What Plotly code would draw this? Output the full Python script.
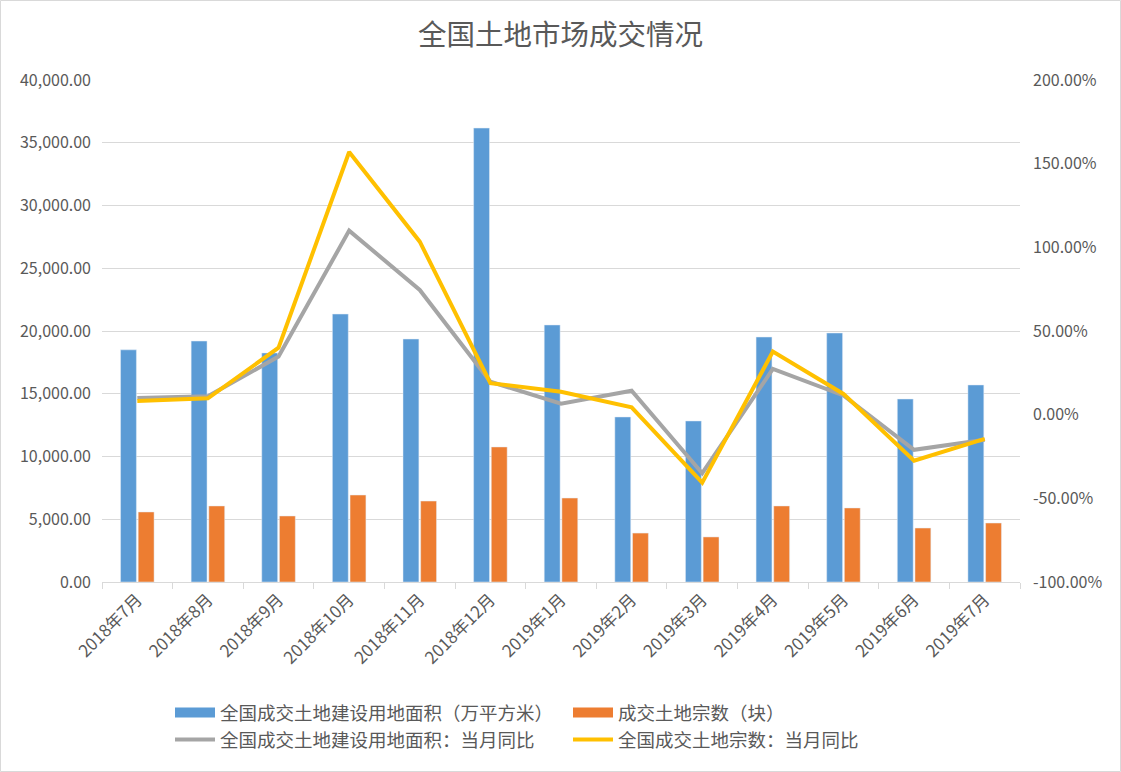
import plotly.graph_objects as go

categories = ["2018年7月", "2018年8月", "2018年9月", "2018年10月", "2018年11月", "2018年12月",
              "2019年1月", "2019年2月", "2019年3月", "2019年4月", "2019年5月", "2019年6月", "2019年7月"]
area = [18500, 19200, 18250, 21350, 19360, 36170, 20480, 13150, 12830, 19520, 19840, 14580, 15700]
count = [5580, 6060, 5260, 6930, 6450, 10760, 6690, 3900, 3590, 6060, 5900, 4300, 4700]
area_yoy = [10.0, 11.0, 34.7, 110.0, 74.5, 19.7, 6.6, 14.3, -35.0, 27.3, 11.5, -21.0, -15.0]
count_yoy = [8.2, 9.8, 40.0, 157.0, 103.4, 18.8, 13.7, 4.4, -40.6, 37.7, 12.4, -27.5, -14.5]

left_ticks = [0, 5000, 10000, 15000, 20000, 25000, 30000, 35000, 40000]
right_ticks = [-100, -50, 0, 50, 100, 150, 200]
right_labels = ["-100.00%", "-50.00%", "0.00%", "50.00%", "100.00%", "150.00%", "200.00%"]

names = ["全国成交土地建设用地面积（万平方米）", "成交土地宗数（块）",
         "全国成交土地建设用地面积：当月同比", "全国成交土地宗数：当月同比"]
colors = ["#5B9BD5", "#ED7D31", "#A5A5A5", "#FFC000"]

W, H = 1121, 772
ML, MR, MT, MB = 102, 101, 80, 190
font_family = "Noto Sans CJK SC, Microsoft YaHei, sans-serif"
txt = "#595959"

fig = go.Figure()
fig.add_trace(go.Bar(x=categories, y=area, name=names[0], marker_color=colors[0], yaxis="y",
                     showlegend=False))
fig.add_trace(go.Bar(x=categories, y=count, name=names[1], marker_color=colors[1], yaxis="y",
                     showlegend=False))
fig.add_trace(go.Scatter(x=categories, y=area_yoy, name=names[2], mode="lines",
                         line=dict(color=colors[2], width=4), yaxis="y2", showlegend=False))
fig.add_trace(go.Scatter(x=categories, y=count_yoy, name=names[3], mode="lines",
                         line=dict(color=colors[3], width=4), yaxis="y2", showlegend=False))

# legend entries (rectangular swatches for bars, lines for line series)
legend_widths = [14, 14, 4, 4]
for nm, c, lw in zip(names, colors, legend_widths):
    fig.add_trace(go.Scatter(x=[None], y=[None], name=nm, mode="lines",
                             line=dict(color=c, width=lw), showlegend=True, hoverinfo="skip"))

pw = W - ML - MR
ph = H - MT - MB
fig.update_layout(
    width=W, height=H,
    margin=dict(l=ML, r=MR, t=MT, b=MB),
    paper_bgcolor="white", plot_bgcolor="white",
    font=dict(family=font_family, color=txt, size=16),
    title=dict(text="全国土地市场成交情况", x=0.5, xanchor="center", y=1 - 35 / H, yanchor="middle",
               font=dict(size=28.5, color=txt, family=font_family)),
    barmode="group", bargap=0.5, bargroupgap=0.1,
    xaxis=dict(type="category", tickangle=-45, ticks="outside", tickson="boundaries",
               ticklen=6, tickcolor="#D9D9D9", showline=True, linecolor="#D9D9D9", linewidth=1,
               showgrid=False, tickfont=dict(size=17, color=txt)),
    yaxis=dict(range=[0, 40000], tickvals=left_ticks, tickformat=",.2f", showgrid=True,
               gridcolor="#D9D9D9", gridwidth=1, zeroline=False, showline=False,
               tickfont=dict(size=16, color=txt), ticks="", ticklabelstandoff=10),
    yaxis2=dict(range=[-100, 200], overlaying="y", side="right", tickvals=right_ticks,
                ticktext=right_labels, showgrid=False, zeroline=False, showline=False,
                tickfont=dict(size=16, color=txt), ticks="", ticklabelstandoff=12),
    legend=dict(orientation="h", x=(170 - ML) / pw, xanchor="left", y=-(694 - (MT + ph)) / ph,
                yanchor="top", entrywidth=343, entrywidthmode="pixels", traceorder="normal",
                font=dict(size=18.5, color=txt), itemwidth=40, tracegroupgap=0),
    showlegend=True,
)
fig.add_shape(type="rect", xref="paper", yref="paper",
              x0=-ML / pw + 0.5 / pw, x1=(W - ML - 0.5) / pw,
              y0=-(MB - 0.5) / ph, y1=(H - MB - 0.5) / ph,
              line=dict(color="#D9D9D9", width=1), fillcolor="rgba(0,0,0,0)", layer="below")

fig.write_html("out.html")
